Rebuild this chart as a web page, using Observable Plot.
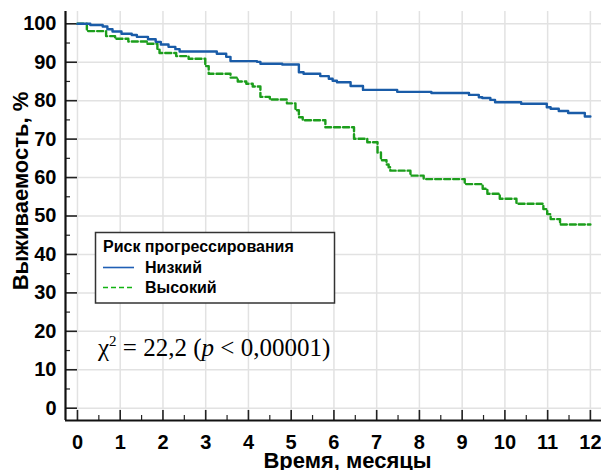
<!DOCTYPE html>
<html><head><meta charset="utf-8">
<script src="https://cdn.jsdelivr.net/npm/d3@7"></script>
<script src="https://cdn.jsdelivr.net/npm/@observablehq/plot@0.6"></script>
<style>
body{margin:0;background:#fff;}
#wrap{position:relative;width:601px;height:470px;overflow:hidden;}
#wrap > svg{position:absolute;left:0;top:0;}
</style></head><body><div id="wrap"></div>
<script>
// ---- data ----
const lowTime = [0,0.30,0.59,0.70,0.82,1.03,1.27,1.39,1.65,1.83,1.95,2.13,2.29,2.39,3.26,3.48,3.58,4.20,4.28,4.79,5.18,5.29,5.68,5.88,5.97,6.07,6.39,6.68,7.48,8.28,9.16,9.39,9.47,9.66,9.77,10.38,10.98,11.07,11.26,11.48,11.87,12];
const lowSurv = [100,99.7,99.3,98.6,98.0,97.4,97.1,96.6,96.0,95.3,94.6,94.0,93.4,92.8,92.2,91.4,90.3,90.1,89.6,89.4,87.4,87.0,86.4,85.7,85.2,84.8,83.8,82.8,82.3,82.0,81.5,80.9,80.7,80.2,79.6,79.2,78.3,77.9,77.3,76.8,75.9,75.9];
const highTime = [0,0.22,0.67,0.88,1.19,1.63,1.87,1.92,2.31,2.60,2.99,3.07,3.58,3.75,3.95,4.10,4.28,4.50,4.90,5.10,5.18,5.27,5.80,6.47,6.78,7.02,7.10,7.23,7.28,7.32,7.79,8.10,9.06,9.48,9.59,9.88,10.27,10.90,10.99,11.07,11.29,12];
const highSurv = [100,98.1,96.8,96.1,95.4,94.8,93.5,92.4,91.6,90.9,89.0,87.0,86.0,85.0,84.4,83.7,81.0,80.3,79.3,77.5,75.7,74.9,73.1,70.1,69.2,66.5,64.5,63.4,62.7,61.8,60.5,59.6,58.3,57.1,55.8,54.5,53.2,51.8,50.5,49.2,47.8,47.8];

const groups = ["Низкий", "Высокий"];
const colors = ["#1a5ca8", "#1c9e1c"];
const legendColors = ["#1f5fb5", "#12b312"];
const legendTitle = "Риск прогрессирования";
const xTicks = d3.range(0, 13);
const xMinor = d3.range(0.5, 12, 1);
const yTicks = d3.range(0, 101, 10);
const yMinor = d3.range(5, 100, 10);
const xTitle = "Время, месяцы";
const yTitle = "Выживаемость, %";
const statText = {chi: "χ", sup: "2", mid: " = 22,2 (", p: "p", tail: " < 0,00001)"};

// ---- layout ----
const W = 601, H = 470;
const mL = 65, mR = 0, mT = 11, mB = 50;
const xDomain = [-0.28, 12.26];
const yDomain = [-3.2, 103.2];
const kx = (W - mL - mR) / (xDomain[1] - xDomain[0]);
const ky = (H - mT - mB) / (yDomain[1] - yDomain[0]);

const low = lowTime.map((t, i) => ({t, s: lowSurv[i]}));
const high = highTime.map((t, i) => ({t, s: highSurv[i]}));

const grid = "#e2e2e2";
const tickColor = "#222";

const chart = Plot.plot({
  width: W, height: H,
  marginLeft: mL, marginRight: mR, marginTop: mT, marginBottom: mB,
  style: {fontFamily: "'Liberation Sans', Arial, sans-serif", color: "#000", background: "#fff"},
  x: {domain: xDomain},
  y: {domain: yDomain},
  marks: [
    Plot.ruleX(xTicks, {x: d => d, stroke: grid, strokeWidth: 1.5}),
    Plot.ruleY(yTicks, {y: d => d, stroke: grid, strokeWidth: 1.5}),
    Plot.ruleX(xTicks, {x: d => d, y1: yDomain[0], y2: yDomain[0] + 10 / ky, stroke: tickColor, strokeWidth: 1.6}),
    Plot.ruleX(xMinor, {x: d => d, y1: yDomain[0], y2: yDomain[0] + 5 / ky, stroke: tickColor, strokeWidth: 1.2}),
    Plot.ruleY(yTicks, {y: d => d, x1: xDomain[0], x2: xDomain[0] + 12 / kx, stroke: tickColor, strokeWidth: 1.6}),
    Plot.ruleY(yMinor, {y: d => d, x1: xDomain[0], x2: xDomain[0] + 5 / kx, stroke: tickColor, strokeWidth: 1.2}),
    Plot.ruleX([xDomain[0]], {stroke: "#111", strokeWidth: 2.2}),
    Plot.ruleY([yDomain[0]], {stroke: "#111", strokeWidth: 2.2}),
    Plot.axisX({ticks: xTicks, tickSize: 0, tickPadding: 14, fontSize: 20, fontWeight: "bold", label: null, tickFormat: d => String(d)}),
    Plot.axisY({ticks: yTicks, tickSize: 0, tickPadding: 9, fontSize: 20, fontWeight: "bold", label: null, tickFormat: d => String(d)}),
    Plot.text([xTitle], {frameAnchor: "bottom", textAnchor: "middle", lineAnchor: "middle", dx: 14, dy: 40, fontSize: 22, fontWeight: "bold", fill: "#000"}),
    Plot.text([yTitle], {frameAnchor: "left", textAnchor: "middle", lineAnchor: "middle", rotate: -90, dx: -45, dy: -25, fontSize: 22, fontWeight: "bold", fill: "#000"}),
    Plot.line(high, {x: "t", y: "s", curve: "step-after", stroke: colors[1], strokeWidth: 2.4, strokeDasharray: "6,3"}),
    Plot.line(low, {x: "t", y: "s", curve: "step-after", stroke: colors[0], strokeWidth: 2.4})
  ]
});
const wrap = document.getElementById("wrap");
wrap.appendChild(chart);

// ---- legend & statistic overlay ----
const ov = d3.select(wrap).append("svg").attr("width", W).attr("height", H)
  .style("font-family", "'Liberation Sans', Arial, sans-serif");
const lg = ov.append("g");
lg.append("rect").attr("x", 95.5).attr("y", 232.5).attr("width", 239).attr("height", 70.5)
  .attr("fill", "#fff").attr("stroke", "#333").attr("stroke-width", 1.5);
lg.append("text").attr("x", 103).attr("y", 251.5).attr("font-size", 16).attr("font-weight", "bold").text(legendTitle);
groups.forEach((g, i) => {
  const yy = 267.5 + i * 20;
  lg.append("line").attr("x1", 103).attr("x2", 134).attr("y1", yy).attr("y2", yy)
    .attr("stroke", legendColors[i]).attr("stroke-width", 1.6)
    .attr("stroke-dasharray", i === 1 ? "5,3" : null);
  lg.append("text").attr("x", 145).attr("y", yy + 5.7).attr("font-size", 16).attr("font-weight", "bold").text(g);
});
const st = ov.append("text").attr("x", 98).attr("y", 356)
  .attr("font-family", "'Liberation Serif', 'Times New Roman', serif").attr("font-size", 25).attr("fill", "#000");
st.append("tspan").text(statText.chi);
st.append("tspan").attr("dy", -10).attr("font-size", 15).text(statText.sup);
st.append("tspan").attr("dy", 10).text(statText.mid);
st.append("tspan").attr("font-style", "italic").text(statText.p);
st.append("tspan").text(statText.tail);
</script></body></html>
